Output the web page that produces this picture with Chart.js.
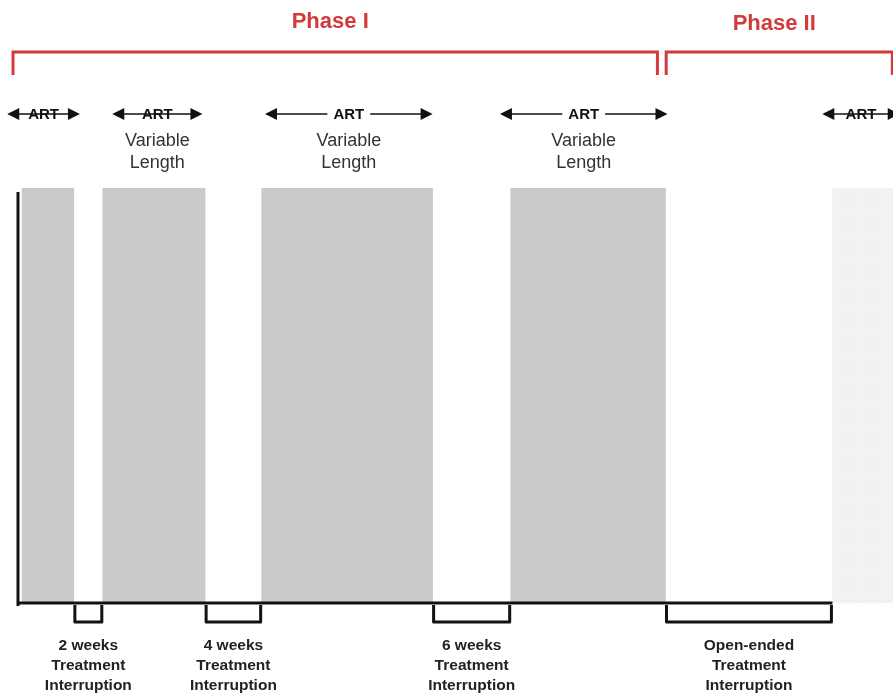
<!DOCTYPE html>
<html>
<head>
<meta charset="utf-8">
<script src="https://cdn.jsdelivr.net/npm/chart.js@4.4.0/dist/chart.umd.min.js"></script>
<style>
  html, body { margin: 0; padding: 0; background: #fff; }
  #wrap { width: 893px; height: 694px; }
</style>
</head>
<body>
<div id="wrap"><canvas id="myChart" width="893" height="694"></canvas></div>
<script>
// timeline in weeks
const weeksMax = 65;
const artStart = [0.3, 6.3, 18.1, 36.6];
const artEnd = [4.15, 13.9, 30.8, 48.1];
const phase2ArtStart = 60.5;

const arrowStart = [-0.8, 7.0, 18.35, 35.8, 59.75];
const arrowEnd = [4.6, 13.7, 30.8, 48.25, 65.5];
const arrowVariable = [false, true, true, true, false];

const phaseLabels = ['Phase I', 'Phase II'];
const phaseStart = [-0.37, 48.15];
const phaseEnd = [47.5, 64.95];

const gapStart = [4.15, 13.9, 30.8, 48.1];
const gapEnd = [6.3, 18.1, 36.6, 60.5];
const gapLabels = [
  ['2 weeks', 'Treatment', 'Interruption'],
  ['4 weeks', 'Treatment', 'Interruption'],
  ['6 weeks', 'Treatment', 'Interruption'],
  ['Open-ended', 'Treatment', 'Interruption']
];

const FONT = '"Liberation Sans", Arial, sans-serif';
const RED = '#d23a3b';

function dotPattern() {
  const c = document.createElement('canvas');
  c.width = 3; c.height = 3;
  const g = c.getContext('2d');
  g.fillStyle = '#f6f6f6';
  g.fillRect(0, 0, 3, 3);
  g.fillStyle = '#e4e4e4';
  g.fillRect(0, 0, 1, 1);
  g.fillRect(1.5, 1.5, 1, 1);
  return g.createPattern(c, 'repeat');
}

const datasets = artStart.map((s, i) => ({
  label: 'ART ' + (i + 1),
  data: [[s, artEnd[i]]],
  backgroundColor: '#c9cbca',
  grouped: false,
  barPercentage: 1,
  categoryPercentage: 1
}));
datasets.push({
  label: 'ART Phase II',
  data: [[phase2ArtStart, weeksMax]],
  backgroundColor: dotPattern(),
  grouped: false,
  barPercentage: 1,
  categoryPercentage: 1
});

function arrowHead(ctx, x, y, dir) {
  ctx.beginPath();
  ctx.moveTo(x, y);
  ctx.lineTo(x - dir * 12, y - 6);
  ctx.lineTo(x - dir * 12, y + 6);
  ctx.closePath();
  ctx.fill();
}

const timelinePlugin = {
  id: 'timeline',
  afterDraw(chart) {
    const ctx = chart.ctx;
    const xs = chart.scales.x;
    const area = chart.chartArea;
    const px = v => xs.getPixelForValue(v);
    ctx.save();

    // axes
    ctx.strokeStyle = '#111';
    ctx.lineWidth = 3;
    ctx.beginPath();
    ctx.moveTo(area.left, area.top + 4);
    ctx.lineTo(area.left, area.bottom + 3);
    ctx.moveTo(area.left, area.bottom);
    ctx.lineTo(px(phase2ArtStart), area.bottom);
    ctx.stroke();

    // phase brackets
    ctx.strokeStyle = RED;
    ctx.fillStyle = RED;
    ctx.lineWidth = 3;
    ctx.textAlign = 'center';
    ctx.textBaseline = 'middle';
    ctx.font = 'bold 22px ' + FONT;
    phaseLabels.forEach((lab, i) => {
      const a = px(phaseStart[i]), b = px(phaseEnd[i]);
      ctx.beginPath();
      ctx.moveTo(a, 75);
      ctx.lineTo(a, 52);
      ctx.lineTo(b, 52);
      ctx.lineTo(b, 75);
      ctx.stroke();
      ctx.fillText(lab, (a + b) / 2 - 5, i === 0 ? 22 : 24);
    });

    // ART arrows
    ctx.strokeStyle = '#111';
    ctx.fillStyle = '#111';
    ctx.lineWidth = 1.5;
    arrowStart.forEach((s, i) => {
      const a = px(s), b = px(arrowEnd[i]);
      const mid = (a + b) / 2;
      const y = 114;
      ctx.beginPath();
      ctx.moveTo(a + 4, y);
      ctx.lineTo(b - 4, y);
      ctx.stroke();
      arrowHead(ctx, a, y, -1);
      arrowHead(ctx, b, y, 1);
      ctx.font = 'bold 15px ' + FONT;
      const w = ctx.measureText('ART').width;
      if (b - a > 110) {
        ctx.fillStyle = '#fff';
        ctx.fillRect(mid - w / 2 - 6, y - 9, w + 12, 18);
        ctx.fillStyle = '#111';
      }
      ctx.fillText('ART', mid, y + 1);
      if (arrowVariable[i]) {
        ctx.fillStyle = '#333';
        ctx.font = '18px ' + FONT;
        ctx.fillText('Variable', mid, 141);
        ctx.fillText('Length', mid, 163);
        ctx.fillStyle = '#111';
      }
    });

    // interruption brackets + labels
    ctx.strokeStyle = '#111';
    ctx.lineWidth = 3;
    ctx.lineJoin = 'round';
    ctx.font = 'bold 15.5px ' + FONT;
    ctx.fillStyle = '#222';
    gapStart.forEach((s, i) => {
      const a = px(s) + 1, b = px(gapEnd[i]) - 1;
      ctx.beginPath();
      ctx.moveTo(a, area.bottom + 2);
      ctx.lineTo(a, 622);
      ctx.lineTo(b, 622);
      ctx.lineTo(b, area.bottom + 2);
      ctx.stroke();
      gapLabels[i].forEach((t, k) => {
        ctx.fillText(t, (a + b) / 2, 646 + k * 20);
      });
    });

    ctx.restore();
  }
};

new Chart(document.getElementById('myChart'), {
  type: 'bar',
  data: { labels: ['Timeline'], datasets: datasets },
  options: {
    indexAxis: 'y',
    responsive: false,
    animation: false,
    layout: { padding: { left: 18, right: 0, top: 188, bottom: 91 } },
    plugins: { legend: { display: false }, tooltip: { enabled: false } },
    scales: {
      x: { type: 'linear', min: 0, max: weeksMax, display: false },
      y: { display: false }
    }
  },
  plugins: [timelinePlugin]
});
</script>
</body>
</html>
